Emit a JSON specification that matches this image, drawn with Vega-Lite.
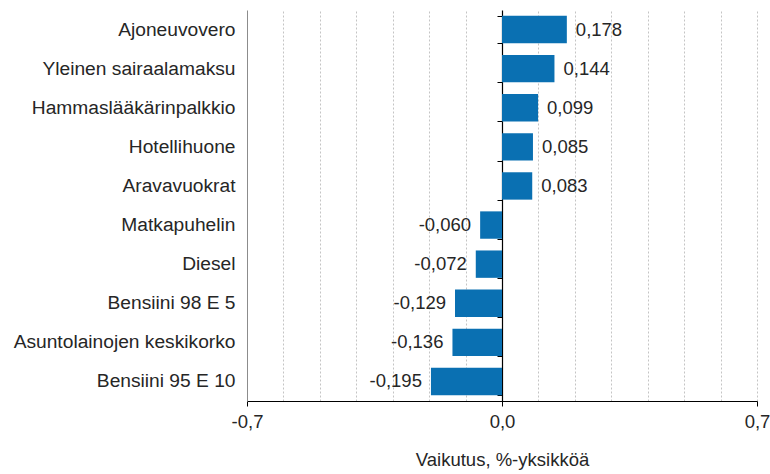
{
  "$schema": "https://vega.github.io/schema/vega-lite/v6.json",
  "width": 510,
  "height": 391,
  "autosize": {"type": "none"},
  "padding": {"left": 247, "top": 10, "right": 13, "bottom": 73},
  "background": "white",
  "config": {
    "view": {"stroke": null},
    "font": "Liberation Sans",
    "locale": {"number": {"decimal": ",", "thousands": " ", "grouping": [3], "currency": ["", " €"], "minus": "-"}}
  },
  "data": {
    "values": [
      {"item": "Ajoneuvovero", "value": 0.178},
      {"item": "Yleinen sairaalamaksu", "value": 0.144},
      {"item": "Hammaslääkärinpalkkio", "value": 0.099},
      {"item": "Hotellihuone", "value": 0.085},
      {"item": "Aravavuokrat", "value": 0.083},
      {"item": "Matkapuhelin", "value": -0.060},
      {"item": "Diesel", "value": -0.072},
      {"item": "Bensiini 98 E 5", "value": -0.129},
      {"item": "Asuntolainojen keskikorko", "value": -0.136},
      {"item": "Bensiini 95 E 10", "value": -0.195}
    ]
  },
  "resolve": {"axis": {"x": "independent", "y": "independent"}},
  "layer": [
    {
      "mark": {"type": "bar", "color": "#0a70b2"},
      "encoding": {
        "y": {
          "field": "item", "type": "nominal", "sort": null,
          "scale": {"paddingInner": 0.3, "paddingOuter": 0.15},
          "axis": {
            "orient": "left", "title": null, "ticks": false,
            "domain": true, "domainColor": "#8c8c8c", "domainWidth": 1,
            "labelPadding": 12, "labelFontSize": 19.2, "labelColor": "#262626",
            "labelFont": "Liberation Sans", "labelLimit": 300
          }
        },
        "x": {
          "field": "value", "type": "quantitative",
          "scale": {"domain": [-0.7, 0.7], "nice": false, "zero": false},
          "axis": {
            "orient": "bottom",
            "values": [-0.7, -0.6, -0.5, -0.4, -0.3, -0.2, -0.1, 0, 0.1, 0.2, 0.3, 0.4, 0.5, 0.6, 0.7],
            "grid": true, "gridColor": "#c4c4c4", "gridDash": [2, 2], "gridWidth": 1,
            "labels": false, "ticks": false, "domain": false, "title": null
          }
        }
      }
    },
    {
      "transform": [{"filter": "datum.value > 0"}],
      "mark": {"type": "text", "align": "left", "baseline": "middle", "dx": 9, "fontSize": 18.5, "color": "#262626"},
      "encoding": {
        "y": {
          "field": "item", "type": "nominal", "sort": null,
          "axis": {
            "orient": "left", "offset": -255, "title": null, "labels": false,
            "ticks": true, "tickBand": "extent", "tickSize": 5, "tickColor": "#000000", "tickWidth": 1,
            "domain": true, "domainColor": "#000000", "domainWidth": 1.2, "grid": false
          }
        },
        "x": {
          "field": "value", "type": "quantitative",
          "axis": {
            "orient": "bottom",
            "values": [-0.7, 0, 0.7], "format": ".1f", "grid": false,
            "ticks": true, "tickSize": 5, "tickColor": "#000000",
            "domain": true, "domainColor": "#000000", "domainWidth": 1.2,
            "labelFontSize": 18.5, "labelColor": "#262626", "labelPadding": 6, "labelFlush": false,
            "title": "Vaikutus, %-yksikköä", "titleFontSize": 18.5, "titleFontWeight": "normal",
            "titleColor": "#262626", "titlePadding": 20
          }
        },
        "text": {"field": "value", "type": "quantitative", "format": ".3f"}
      }
    },
    {
      "transform": [{"filter": "datum.value < 0"}],
      "mark": {"type": "text", "align": "right", "baseline": "middle", "dx": -9, "fontSize": 18.5, "color": "#262626"},
      "encoding": {
        "y": {"field": "item", "type": "nominal", "sort": null, "axis": null},
        "x": {"field": "value", "type": "quantitative", "axis": null},
        "text": {"field": "value", "type": "quantitative", "format": ".3f"}
      }
    }
  ]
}
